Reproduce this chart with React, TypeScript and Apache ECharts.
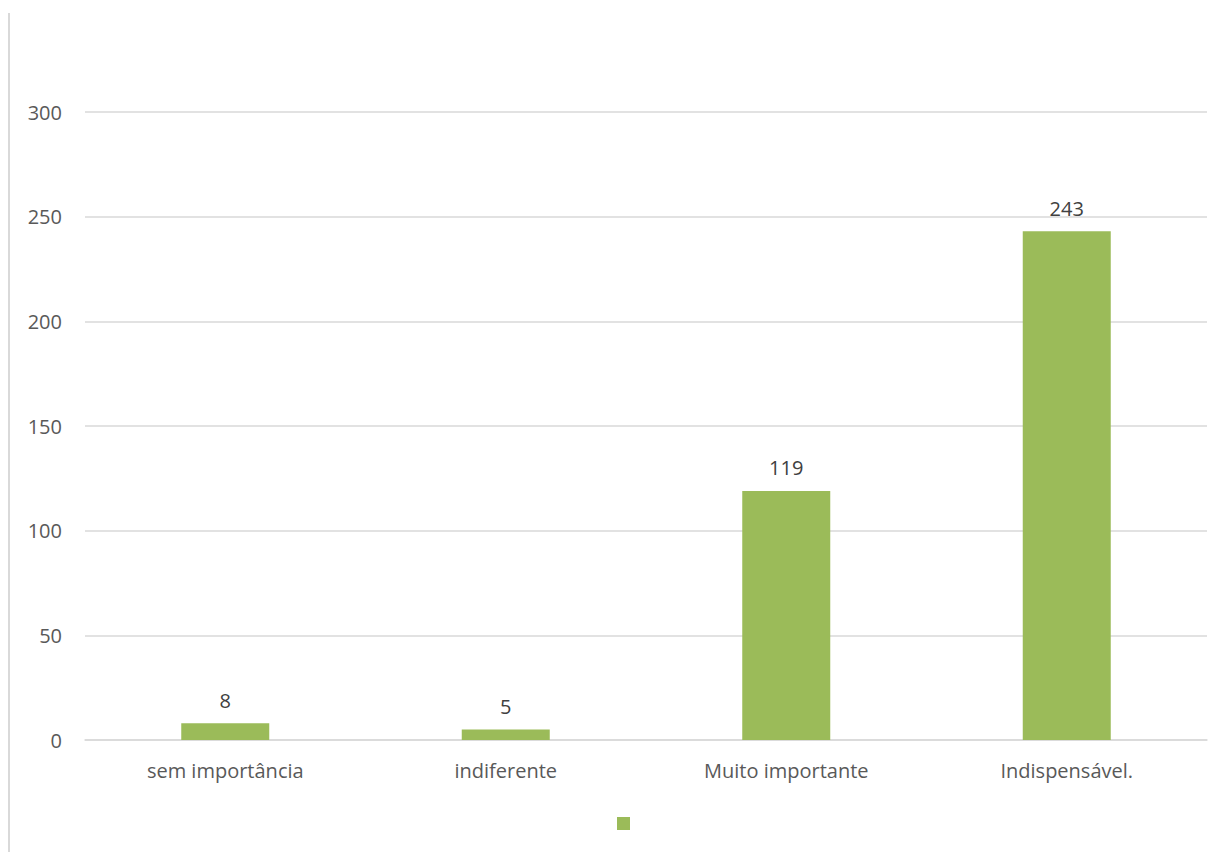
import React, { useEffect, useRef } from "react";
import * as echarts from "echarts";

const categories = ["sem importância", "indiferente", "Muito importante", "Indispensável."];
const values = [8, 5, 119, 243];
const yTicks = { min: 0, max: 300, interval: 50 };
const seriesName = " ";

export default function App() {
  const ref = useRef<HTMLDivElement>(null);
  useEffect(() => {
    if (!ref.current) return;
    const chart = echarts.init(ref.current, undefined, { renderer: "svg" });
    const font = "'Open Sans', 'Noto Sans', sans-serif";
    chart.setOption({
      animation: false,
      backgroundColor: "#ffffff",
      textStyle: { fontFamily: font },
      grid: { left: 85, right: 17, top: 112, bottom: 112, containLabel: false },
      legend: {
        show: true,
        left: 617,
        top: 817,
        itemWidth: 13,
        itemHeight: 13,
        itemGap: 0,
        padding: 0,
        icon: "rect",
        data: [seriesName],
        textStyle: { fontSize: 10, color: "#fff" },
        selectedMode: false,
      },
      graphic: [
        {
          type: "line",
          shape: { x1: 9, y1: 13, x2: 9, y2: 852 },
          style: { stroke: "#d9d9d9", lineWidth: 2 },
          silent: true,
        },
      ],
      xAxis: {
        type: "category",
        data: categories,
        axisLine: { show: true, lineStyle: { color: "#d9d9d9", width: 1.5 } },
        axisTick: { show: false },
        axisLabel: { color: "#595959", fontSize: 20, margin: 20, fontFamily: font },
      },
      yAxis: {
        type: "value",
        min: yTicks.min,
        max: yTicks.max,
        interval: yTicks.interval,
        axisLine: { show: false },
        axisTick: { show: false },
        splitLine: { lineStyle: { color: "#d9d9d9", width: 1.5 } },
        axisLabel: { color: "#595959", fontSize: 20, margin: 23, fontFamily: font },
      },
      series: [
        {
          name: seriesName,
          type: "bar",
          data: values,
          barWidth: 88,
          itemStyle: { color: "#9BBB59" },
          label: {
            show: true,
            position: "top",
            distance: 13,
            color: "#404040",
            fontSize: 20,
            fontFamily: font,
          },
        },
      ],
    });
    return () => chart.dispose();
  }, []);
  return (
    <div
      ref={ref}
      style={{ position: "fixed", left: 0, top: 0, width: 1224, height: 852, background: "#fff" }}
    />
  );
}
